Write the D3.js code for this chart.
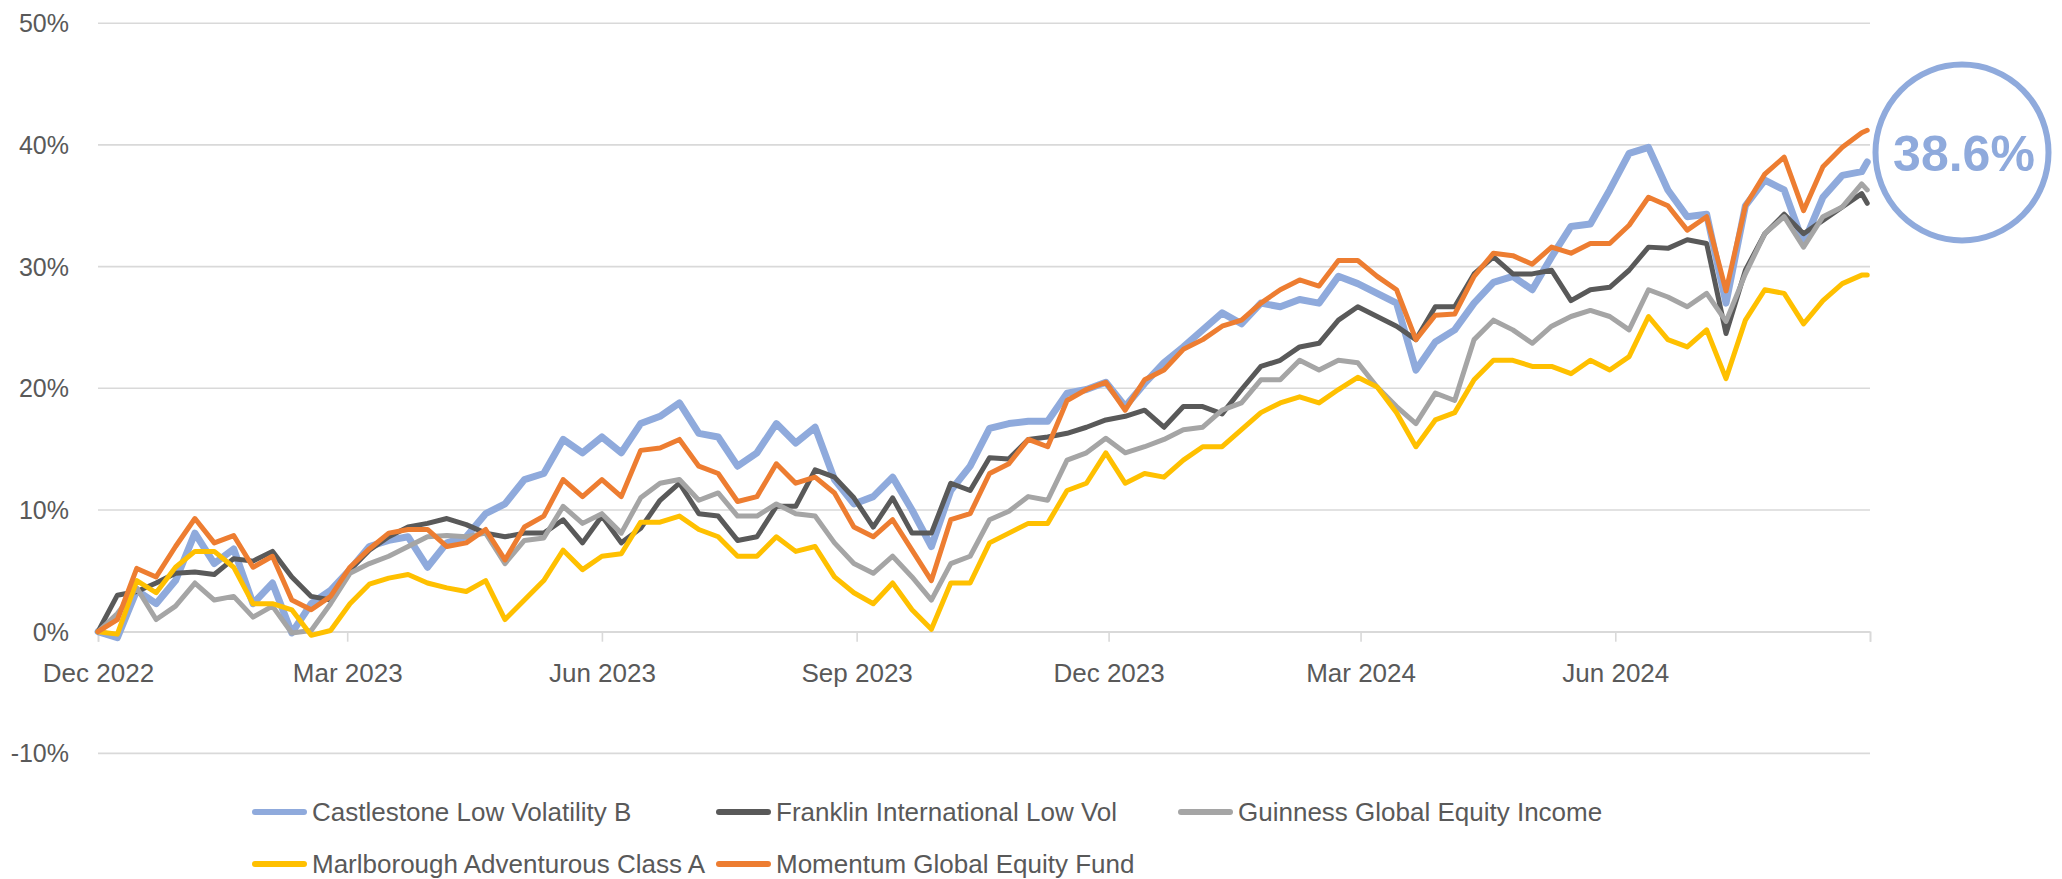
<!DOCTYPE html>
<html>
<head>
<meta charset="utf-8">
<script src="https://cdn.jsdelivr.net/npm/d3@7"></script>
<style>
  html, body { margin: 0; padding: 0; background: #ffffff; }
  svg { display: block; }
  text { font-family: "Liberation Sans", Arial, sans-serif; fill: #595959; }
</style>
</head>
<body>
<svg id="chart" width="2062" height="879"></svg>
<script>
// ---------- data (weekly readings, % return since Dec 2022) ----------
const seriesNames = [
  "Castlestone Low Volatility B",
  "Franklin International Low Vol",
  "Guinness Global Equity Income",
  "Marlborough Adventurous Class A",
  "Momentum Global Equity Fund"
];
const seriesColors = ["#8FAADC", "#595959", "#A5A5A5", "#FFC000", "#ED7D31"];

const castlestone = [0,-0.5,3.4,2.3,4.2,8.1,5.6,6.8,2.3,4.0,-0.1,2.3,3.4,5.1,7.0,7.5,7.8,5.3,7.3,7.8,9.7,10.5,12.5,13.0,15.8,14.7,16.0,14.7,17.1,17.7,18.8,16.3,16.0,13.6,14.7,17.1,15.5,16.8,12.5,10.5,11.1,12.7,10.0,7.0,11.6,13.6,16.7,17.1,17.3,17.3,19.6,19.9,20.5,18.5,20.4,22.1,23.4,24.8,26.2,25.3,27.0,26.7,27.3,27.0,29.2,28.6,27.8,27.0,21.5,23.8,24.8,27.0,28.7,29.2,28.1,30.8,33.3,33.5,36.3,39.3,39.8,36.3,34.1,34.3,27.0,35.0,37.1,36.3,31.9,35.7,37.5,37.8,38.6];
const franklin = [0,3.0,3.3,4.0,4.8,4.9,4.7,6.0,5.8,6.6,4.5,2.9,2.6,5.1,6.7,7.8,8.6,8.9,9.3,8.8,8.1,7.8,8.1,8.1,9.2,7.3,9.5,7.3,8.5,10.8,12.2,9.7,9.5,7.5,7.8,10.3,10.3,13.3,12.7,11.0,8.6,11.0,8.1,8.1,12.2,11.6,14.3,14.2,15.8,16.0,16.3,16.8,17.4,17.7,18.2,16.8,18.5,18.5,17.9,19.9,21.8,22.3,23.4,23.7,25.6,26.7,25.9,25.1,24.0,26.7,26.7,29.4,30.8,29.4,29.4,29.7,27.2,28.1,28.3,29.7,31.6,31.5,32.2,31.9,24.5,29.7,32.7,34.3,32.7,33.8,34.9,36.0,35.2];
const guinness = [0,1.5,3.6,1.0,2.1,4.0,2.6,2.9,1.2,2.1,-0.1,0.1,2.3,4.8,5.6,6.2,7.0,7.8,7.9,7.8,8.1,5.6,7.5,7.7,10.3,8.9,9.7,8.1,11.0,12.2,12.5,10.8,11.4,9.5,9.5,10.5,9.7,9.5,7.3,5.6,4.8,6.2,4.5,2.6,5.6,6.2,9.2,9.9,11.1,10.8,14.1,14.7,15.9,14.7,15.2,15.8,16.6,16.8,18.2,18.8,20.7,20.7,22.3,21.5,22.3,22.1,20.1,18.5,17.1,19.6,19.0,24.0,25.6,24.8,23.7,25.1,25.9,26.4,25.9,24.8,28.1,27.5,26.7,27.8,25.5,29.4,32.7,34.1,31.6,34.1,34.9,36.8,36.3];
const marlborough = [0,-0.2,4.2,3.2,5.3,6.6,6.6,5.3,2.3,2.3,1.8,-0.3,0.1,2.3,3.9,4.4,4.7,4.0,3.6,3.3,4.2,1.0,2.6,4.2,6.7,5.1,6.2,6.4,9.0,9.0,9.5,8.4,7.8,6.2,6.2,7.8,6.6,7.0,4.5,3.2,2.3,4.0,1.8,0.2,4.0,4.0,7.3,8.1,8.9,8.9,11.6,12.2,14.7,12.2,13.0,12.7,14.1,15.2,15.2,16.6,18.0,18.8,19.3,18.8,19.9,20.9,20.1,18.0,15.2,17.4,18.0,20.7,22.3,22.3,21.8,21.8,21.2,22.3,21.5,22.6,25.9,24.0,23.4,24.8,20.8,25.6,28.1,27.8,25.3,27.2,28.6,29.3,29.3];
const momentum = [0,1.0,5.2,4.5,7.0,9.3,7.3,7.9,5.3,6.2,2.6,1.8,2.9,5.3,6.8,8.1,8.4,8.4,7.0,7.3,8.4,5.9,8.6,9.5,12.5,11.1,12.5,11.1,14.9,15.1,15.8,13.6,13.0,10.7,11.1,13.8,12.2,12.7,11.4,8.6,7.8,9.2,6.7,4.2,9.2,9.7,13.0,13.8,15.8,15.2,19.0,19.9,20.5,18.2,20.7,21.5,23.2,24.0,25.1,25.6,27.0,28.1,28.9,28.4,30.5,30.5,29.2,28.1,24.0,26.0,26.1,29.2,31.1,30.9,30.2,31.6,31.1,31.9,31.9,33.4,35.7,35.0,33.0,34.1,28.0,35.0,37.6,39.0,34.6,38.2,39.8,41.0,41.2];

const startDate = "2022-12-01";
const endDate = "2024-08-31";
const axisEnd = "2024-09-01";
const tickDates = ["2022-12-01","2023-03-01","2023-06-01","2023-09-01","2023-12-01","2024-03-01","2024-06-01"];
const yTicks = [-10, 0, 10, 20, 30, 40, 50];
const finalLabel = "38.6%";

// ---------- setup ----------
const parse = d3.timeParse("%Y-%m-%d");
const t0 = parse(startDate);
// weekly observation dates (one per reading), last reading at end of August 2024
const dates = d3.range(castlestone.length - 1).map(k => d3.timeDay.offset(t0, 7 * k));
dates.push(parse(endDate));

const allSeries = [castlestone, franklin, guinness, marlborough, momentum];

const svg = d3.select("#chart");
const plotLeft = 98, plotRight = 1870;

const x = d3.scaleTime()
  .domain([t0, parse(axisEnd)])
  .range([plotLeft, plotRight]);
const y = d3.scaleLinear()
  .domain([-10, 50])
  .range([753.4, 23.2]);

// gridlines + y labels
const grid = svg.append("g");
grid.selectAll("line").data(yTicks).join("line")
  .attr("x1", plotLeft).attr("x2", plotRight)
  .attr("y1", d => y(d)).attr("y2", d => y(d))
  .attr("stroke", "#D9D9D9").attr("stroke-width", 1.6);
grid.selectAll("text").data(yTicks).join("text")
  .attr("x", 69).attr("y", d => y(d))
  .attr("text-anchor", "end")
  .attr("dominant-baseline", "central")
  .style("font-size", "25px")
  .text(d => d + "%");

// x axis at 0%
const xAxis = d3.axisBottom(x)
  .tickValues(tickDates.map(parse).concat([parse(axisEnd)]))
  .tickSize(10)
  .tickFormat(d => (+d === +parse(axisEnd)) ? "" : d3.timeFormat("%b %Y")(d));
const gx = svg.append("g")
  .attr("transform", `translate(0,${y(0)})`)
  .call(xAxis);
gx.select(".domain").attr("stroke", "#D9D9D9").attr("stroke-width", 1.6);
gx.selectAll(".tick line").attr("stroke", "#D9D9D9").attr("stroke-width", 1.6);
gx.selectAll(".tick text")
  .attr("y", 32)
  .attr("fill", "#595959")
  .style("font-size", "26px")
  .style("font-family", "'Liberation Sans', Arial, sans-serif");

// lines
const line = d3.line()
  .x((d, i) => x(dates[i]))
  .y(d => y(d));

const lineWidths = [7, 5, 5, 5, 5];
svg.append("g").selectAll("path").data(allSeries).join("path")
  .attr("d", d => line(d))
  .attr("fill", "none")
  .attr("stroke", (d, i) => seriesColors[i])
  .attr("stroke-width", (d, i) => lineWidths[i])
  .attr("stroke-linejoin", "round")
  .attr("stroke-linecap", "round");

// annotation ellipse
const ann = svg.append("g");
ann.append("ellipse")
  .attr("cx", 1962).attr("cy", 152.5)
  .attr("rx", 86.5).attr("ry", 88)
  .attr("fill", "#ffffff")
  .attr("stroke", seriesColors[0])
  .attr("stroke-width", 6);
ann.append("text")
  .attr("x", 1964).attr("y", 154)
  .attr("text-anchor", "middle")
  .attr("dominant-baseline", "central")
  .style("font-size", "50px")
  .style("font-weight", "bold")
  .style("fill", seriesColors[0])
  .text(finalLabel);

// legend
const legendPos = [[252, 812], [716, 812], [1178, 812], [252, 864], [716, 864]];
const lg = svg.append("g");
seriesNames.forEach((name, i) => {
  const [lx, ly] = legendPos[i];
  lg.append("line")
    .attr("x1", lx + 3).attr("x2", lx + 52)
    .attr("y1", ly).attr("y2", ly)
    .attr("stroke", seriesColors[i])
    .attr("stroke-width", 6)
    .attr("stroke-linecap", "round");
  lg.append("text")
    .attr("x", lx + 60).attr("y", ly)
    .attr("dominant-baseline", "central")
    .style("font-size", "26px")
    .text(name);
});
</script>
</body>
</html>
